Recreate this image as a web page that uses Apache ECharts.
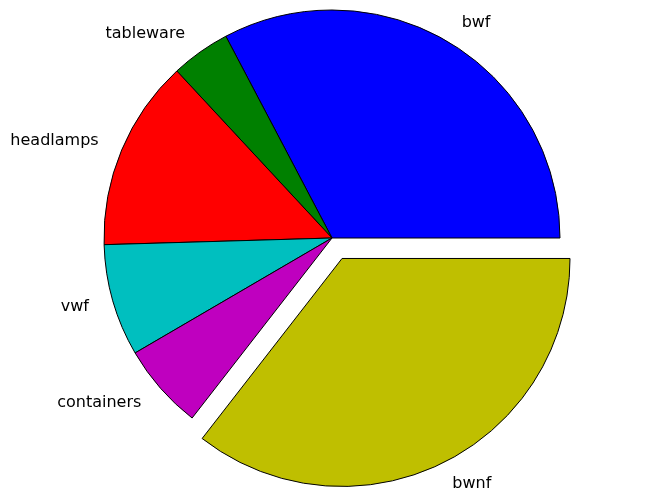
<!DOCTYPE html>
<html>
<head>
<meta charset="utf-8">
<script src="https://cdn.jsdelivr.net/npm/echarts@6/dist/echarts.min.js"></script>
<style>
  html, body { margin: 0; padding: 0; background: #fff; }
  #main { width: 657px; height: 503px; }
</style>
</head>
<body>
<div id="main"></div>
<script>
var labels = ['bwf', 'tableware', 'headlamps', 'vwf', 'containers', 'bwnf'];
var counts = [70, 9, 29, 17, 13, 76];
var colors = ['#0000ff', '#008000', '#ff0000', '#00bfbf', '#bf00bf', '#bfbf00'];
var exploded = ['bwnf'];

var chartDom = document.getElementById('main');
var myChart = echarts.init(chartDom, null, { renderer: 'canvas' });
var R = 228;

var option = {
  animation: false,
  series: [
    {
      type: 'pie',
      center: [332, 238],
      radius: R,
      startAngle: 0,
      clockwise: false,
      avoidLabelOverlap: false,
      selectedMode: 'multiple',
      selectedOffset: R * 0.1,
      emphasis: { disabled: true },
      itemStyle: { borderColor: '#000', borderWidth: 1 },
      label: {
        position: 'outside',
        color: '#000',
        fontFamily: 'DejaVu Sans',
        fontSize: 16,
        padding: [0, 2, 0, 0],
        distanceToLabelLine: 0
      },
      labelLine: { show: false, length: R * 0.1, length2: 0 },
      data: labels.map(function (name, i) {
        return {
          name: name,
          value: counts[i],
          selected: exploded.indexOf(name) >= 0,
          itemStyle: { color: colors[i] }
        };
      })
    }
  ]
};

option && myChart.setOption(option);
</script>
</body>
</html>
